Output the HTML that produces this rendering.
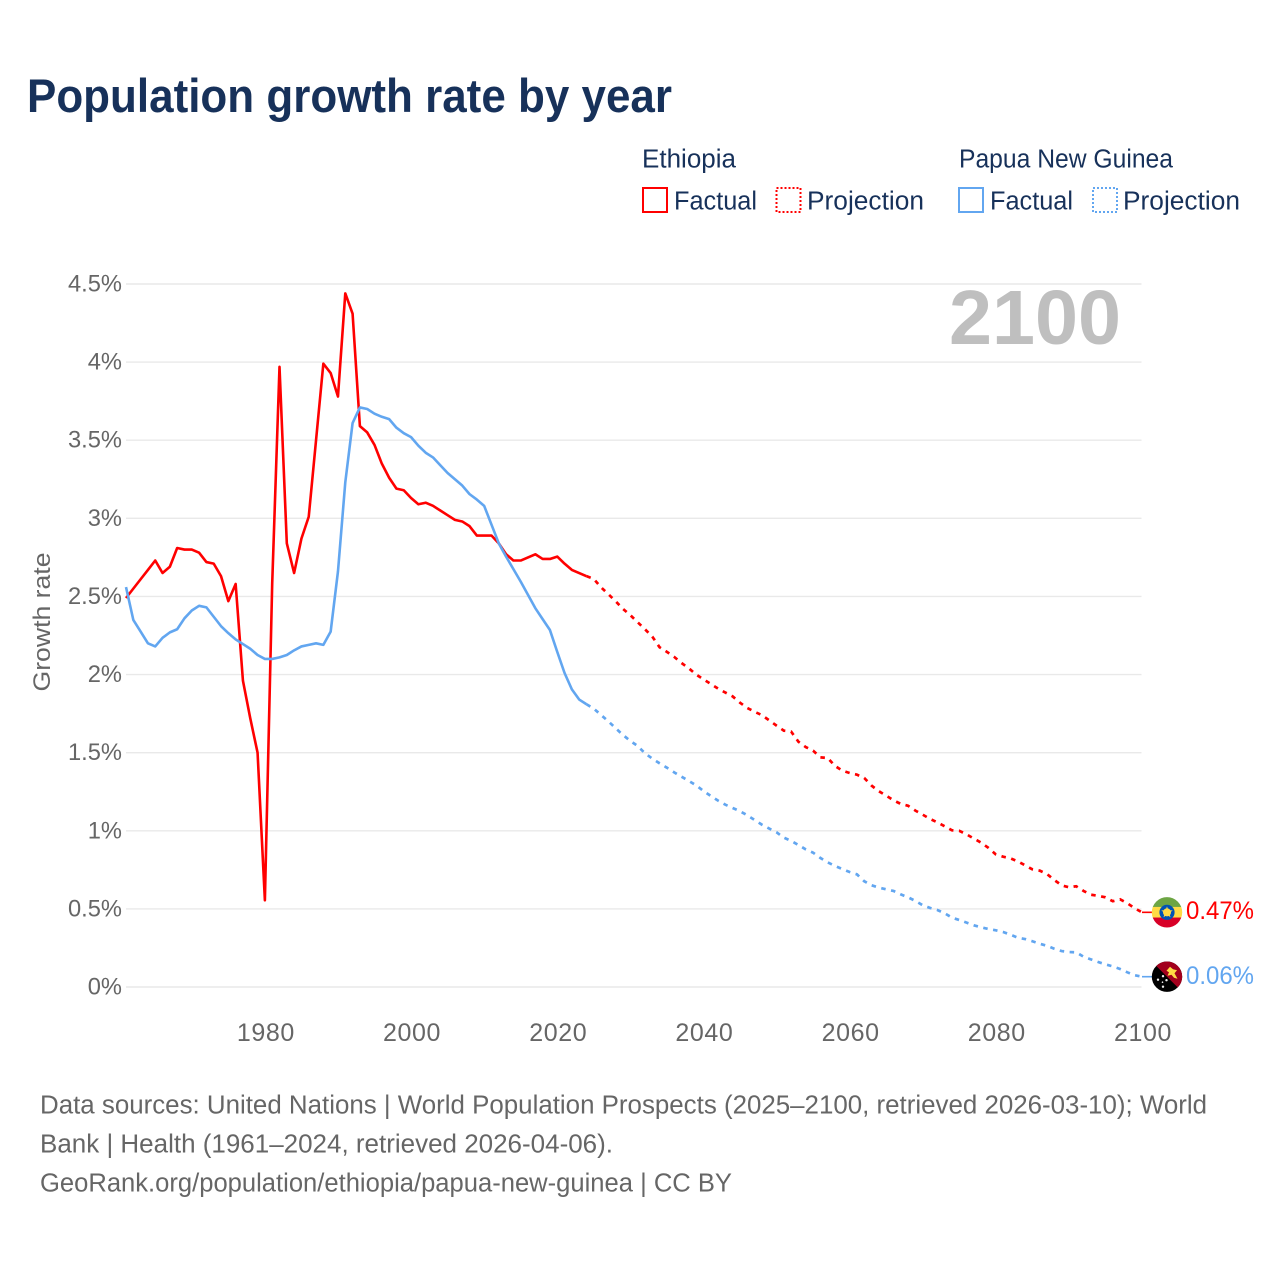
<!DOCTYPE html>
<html lang="en">
<head>
<meta charset="utf-8">
<title>Population growth rate by year</title>
<style>
html,body{margin:0;padding:0;background:#fff;}
svg{display:block;font-family:"Liberation Sans",sans-serif;}
</style>
</head>
<body>
<svg id="chart" width="1280" height="1280" viewBox="0 0 1280 1280" xmlns="http://www.w3.org/2000/svg">
  <rect width="1280" height="1280" fill="#ffffff"/>
  <text x="27" y="112" font-size="47" font-weight="700" fill="#17315a" textLength="645" lengthAdjust="spacingAndGlyphs">Population growth rate by year</text>

  <g font-size="25.5" fill="#17315a">
    <text x="642" y="167.5" textLength="94" lengthAdjust="spacingAndGlyphs">Ethiopia</text>
    <text x="959" y="167.5" textLength="214" lengthAdjust="spacingAndGlyphs">Papua New Guinea</text>
    <g>
      <rect x="643" y="188" width="24" height="24" fill="none" stroke="#ff0000" stroke-width="2"/>
      <text x="674" y="209.5" textLength="83" lengthAdjust="spacingAndGlyphs">Factual</text>
    </g>
    <g>
      <rect x="776.5" y="188" width="24" height="24" fill="none" stroke="#ff0000" stroke-width="2" stroke-dasharray="2 2"/>
      <text x="807" y="209.5" textLength="117" lengthAdjust="spacingAndGlyphs">Projection</text>
    </g>
    <g>
      <rect x="959" y="188" width="24" height="24" fill="none" stroke="#62a6f0" stroke-width="2"/>
      <text x="990" y="209.5" textLength="83" lengthAdjust="spacingAndGlyphs">Factual</text>
    </g>
    <g>
      <rect x="1093" y="188" width="24" height="24" fill="none" stroke="#62a6f0" stroke-width="2" stroke-dasharray="2 2"/>
      <text x="1123" y="209.5" textLength="117" lengthAdjust="spacingAndGlyphs">Projection</text>
    </g>
  </g>

  <text x="1121" y="344" text-anchor="end" font-size="77" font-weight="700" fill="#bfbfbf" textLength="172" lengthAdjust="spacingAndGlyphs">2100</text>

  <text transform="translate(50,622) rotate(-90)" text-anchor="middle" font-size="24.5" fill="#666666" textLength="139" lengthAdjust="spacingAndGlyphs">Growth rate</text>

  <g id="grid"></g>
  <g id="y-ticks"></g>
  <g id="x-ticks"></g>
  <g id="series"></g>

  <g id="flag-eth">
    <clipPath id="clip-eth"><circle cx="0" cy="0" r="15.2"/></clipPath>
    <g clip-path="url(#clip-eth)">
      <rect x="-16" y="-16" width="32" height="11" fill="#6da544"/>
      <rect x="-16" y="-5.4" width="32" height="10.8" fill="#ffda44"/>
      <rect x="-16" y="5.2" width="32" height="11" fill="#d80027"/>
      <circle cx="0" cy="0" r="7.6" fill="#0052b4"/>
      <circle cx="0" cy="0" r="4" fill="#ffda44"/>
      <polygon points="0,-6 1.4,-2 5.7,-1.9 2.3,0.8 3.5,4.9 0,2.5 -3.5,4.9 -2.3,0.8 -5.7,-1.9 -1.4,-2" fill="#ffda44"/>
    </g>
  </g>
  <g id="flag-png">
    <clipPath id="clip-png"><circle cx="0" cy="0" r="15.2"/></clipPath>
    <g clip-path="url(#clip-png)">
      <rect x="-16" y="-16" width="32" height="32" fill="#000000"/>
      <polygon points="-16,-16 16,-16 16,16" fill="#a2001d"/>
      <polygon points="-0.5,-6 3,-10 6,-7.5 10,-6.5 7.5,-3.5 10.5,2 7,1 4.5,-2 0.5,-1 2,-4.5" fill="#ffda44"/>
      <g fill="#f0f0f0">
        <circle cx="-4" cy="-0.5" r="1.2"/><circle cx="-9" cy="3" r="1.2"/><circle cx="-0.5" cy="3.5" r="1.2"/>
        <circle cx="-4.5" cy="5.5" r="0.8"/><circle cx="-4" cy="10" r="1.2"/>
      </g>
    </g>
  </g>

  <text id="label-eth" x="1186" y="919" font-size="25" fill="#ff0000" textLength="68" lengthAdjust="spacingAndGlyphs">0.47%</text>
  <text id="label-png" x="1186" y="984" font-size="25" fill="#62a6f0" textLength="68" lengthAdjust="spacingAndGlyphs">0.06%</text>

  <g font-size="25.5" fill="#666666">
    <text x="40" y="1113.5" textLength="1167" lengthAdjust="spacingAndGlyphs">Data sources: United Nations | World Population Prospects (2025–2100, retrieved 2026-03-10); World</text>
    <text x="40" y="1152.5" textLength="573" lengthAdjust="spacingAndGlyphs">Bank | Health (1961–2024, retrieved 2026-04-06).</text>
    <text x="40" y="1191.5" textLength="692" lengthAdjust="spacingAndGlyphs">GeoRank.org/population/ethiopia/papua-new-guinea | CC BY</text>
  </g>
</svg>
<script>
const yTickValues = [0, 0.5, 1, 1.5, 2, 2.5, 3, 3.5, 4, 4.5];
const yTickLabels = ["0%", "0.5%", "1%", "1.5%", "2%", "2.5%", "3%", "3.5%", "4%", "4.5%"];
const xTickYears = [1980, 2000, 2020, 2040, 2060, 2080, 2100];
const factualStartYear = 1961;
const projectionStartYear = 2024;
const lastYear = 2100;

const ethiopiaFactual = [
  2.49,2.55,2.61,2.67,2.73,2.65,2.69,2.81,2.80,2.80,
  2.78,2.72,2.71,2.63,2.47,2.58,1.96,1.72,1.50,0.555,
  2.58,3.97,2.84,2.65,2.87,3.01,3.50,3.99,3.93,3.78,
  4.44,4.31,3.59,3.55,3.47,3.35,3.26,3.19,3.18,3.13,
  3.09,3.10,3.08,3.05,3.02,2.99,2.98,2.95,2.89,2.89,
  2.89,2.84,2.77,2.73,2.73,2.75,2.77,2.74,2.74,2.755,
  2.71,2.67,2.65,2.63
];
const pngFactual = [
  2.56,2.35,2.275,2.20,2.18,2.235,2.27,2.29,2.36,2.41,
  2.44,2.43,2.37,2.31,2.265,2.225,2.195,2.165,2.125,2.10,
  2.10,2.11,2.125,2.155,2.18,2.19,2.20,2.19,2.275,2.66,
  3.23,3.61,3.71,3.70,3.67,3.65,3.635,3.58,3.545,3.52,
  3.465,3.42,3.39,3.34,3.29,3.25,3.21,3.155,3.12,3.08,
  2.96,2.84,2.755,2.675,2.595,2.51,2.425,2.355,2.285,2.145,
  2.01,1.905,1.84,1.81
];
const ethiopiaProjection = [
  2.63,2.612,2.558,2.514,2.469,2.42,2.38,2.335,2.29,2.243,
  2.175,2.145,2.113,2.074,2.04,2.00,1.97,1.94,1.91,1.885,
  1.86,1.82,1.786,1.762,1.74,1.707,1.673,1.641,1.635,1.57,
  1.536,1.513,1.47,1.466,1.415,1.385,1.37,1.359,1.338,1.289,
  1.253,1.225,1.195,1.172,1.16,1.129,1.103,1.076,1.054,1.029,
  1.003,1.00,0.977,0.95,0.924,0.89,0.849,0.834,0.824,0.804,
  0.779,0.753,0.745,0.723,0.685,0.651,0.638,0.645,0.615,0.591,
  0.584,0.574,0.549,0.561,0.536,0.504,0.478
];
const pngProjection = [
  1.81,1.782,1.741,1.70,1.656,1.613,1.575,1.543,1.496,1.462,
  1.432,1.404,1.374,1.346,1.319,1.291,1.255,1.223,1.193,1.167,
  1.146,1.125,1.099,1.069,1.039,1.014,0.99,0.956,0.935,0.909,
  0.881,0.86,0.826,0.798,0.775,0.755,0.736,0.721,0.677,0.651,
  0.636,0.625,0.615,0.593,0.574,0.551,0.523,0.506,0.493,0.472,
  0.444,0.429,0.412,0.395,0.382,0.371,0.363,0.352,0.335,0.316,
  0.307,0.293,0.277,0.264,0.245,0.23,0.224,0.222,0.194,0.177,
  0.16,0.145,0.132,0.115,0.094,0.075,0.066
];

const SVGNS = "http://www.w3.org/2000/svg";
function xScale(year) { return 126 + (year - factualStartYear) * (1142 - 126) / (lastYear - factualStartYear); }
function yScale(value) { return 987 - value * (987 - 284) / 4.5; }
function pathFor(values, startYear) {
  return values.map(function (v, i) {
    return (i ? "L" : "M") + xScale(startYear + i).toFixed(2) + " " + yScale(v).toFixed(2);
  }).join(" ");
}
function make(tag, attrs, parent) {
  const el = document.createElementNS(SVGNS, tag);
  Object.keys(attrs).forEach(function (k) { el.setAttribute(k, attrs[k]); });
  parent.appendChild(el);
  return el;
}

const gridGroup = document.getElementById("grid");
const yGroup = document.getElementById("y-ticks");
yTickValues.forEach(function (v, i) {
  const line = make("line", { x1: 126, x2: 1141.5, y1: yScale(v), y2: yScale(v), stroke: "#e9e9e9", "stroke-width": 1.4 }, gridGroup);
  
  
  const label = make("text", { x: 122, y: yScale(v) + 7.5, "text-anchor": "end", "font-size": 23.7, fill: "#666666" }, yGroup);
  
  
  label.textContent = yTickLabels[i];
});

const xGroup = document.getElementById("x-ticks");
xTickYears.forEach(function (year) {
  const label = make("text", { x: xScale(year) + 1, y: 1041, "text-anchor": "middle", "font-size": 25, "letter-spacing": 0.6, fill: "#666666" }, xGroup);
  
  
  label.textContent = String(year);
});

const seriesGroup = document.getElementById("series");
const COLOR_ETH = "#ff0000";
const COLOR_PNG = "#62a6f0";

const ethProjLine = make("path", { d: pathFor(ethiopiaProjection, projectionStartYear), fill: "none", stroke: COLOR_ETH, "stroke-width": 2.7, "stroke-dasharray": "4.5 5.5" }, seriesGroup);



const pngProjLine = make("path", { d: pathFor(pngProjection, projectionStartYear), fill: "none", stroke: COLOR_PNG, "stroke-width": 2.7, "stroke-dasharray": "4.5 5.5" }, seriesGroup);



const ethFactLine = make("path", { d: pathFor(ethiopiaFactual, factualStartYear), fill: "none", stroke: COLOR_ETH, "stroke-width": 2.6, "stroke-linejoin": "round" }, seriesGroup);



const pngFactLine = make("path", { d: pathFor(pngFactual, factualStartYear), fill: "none", stroke: COLOR_PNG, "stroke-width": 2.6, "stroke-linejoin": "round" }, seriesGroup);



const ethEnd = yScale(ethiopiaProjection[ethiopiaProjection.length - 1]);
const pngEnd = yScale(pngProjection[pngProjection.length - 1]);

const ethConnector = make("line", { x1: xScale(lastYear), x2: 1152, y1: ethEnd, y2: ethEnd, stroke: COLOR_ETH, "stroke-width": 1.6 }, seriesGroup);



const pngConnector = make("line", { x1: xScale(lastYear), x2: 1152, y1: pngEnd, y2: pngEnd, stroke: COLOR_PNG, "stroke-width": 1.6 }, seriesGroup);



document.getElementById("flag-eth").setAttribute("transform", "translate(1167," + ethEnd + ")");
document.getElementById("flag-png").setAttribute("transform", "translate(1167," + pngEnd + ")");
document.getElementById("label-eth").setAttribute("y", ethEnd + 6.5);
document.getElementById("label-png").setAttribute("y", pngEnd + 7.5);
</script>
</body>
</html>
